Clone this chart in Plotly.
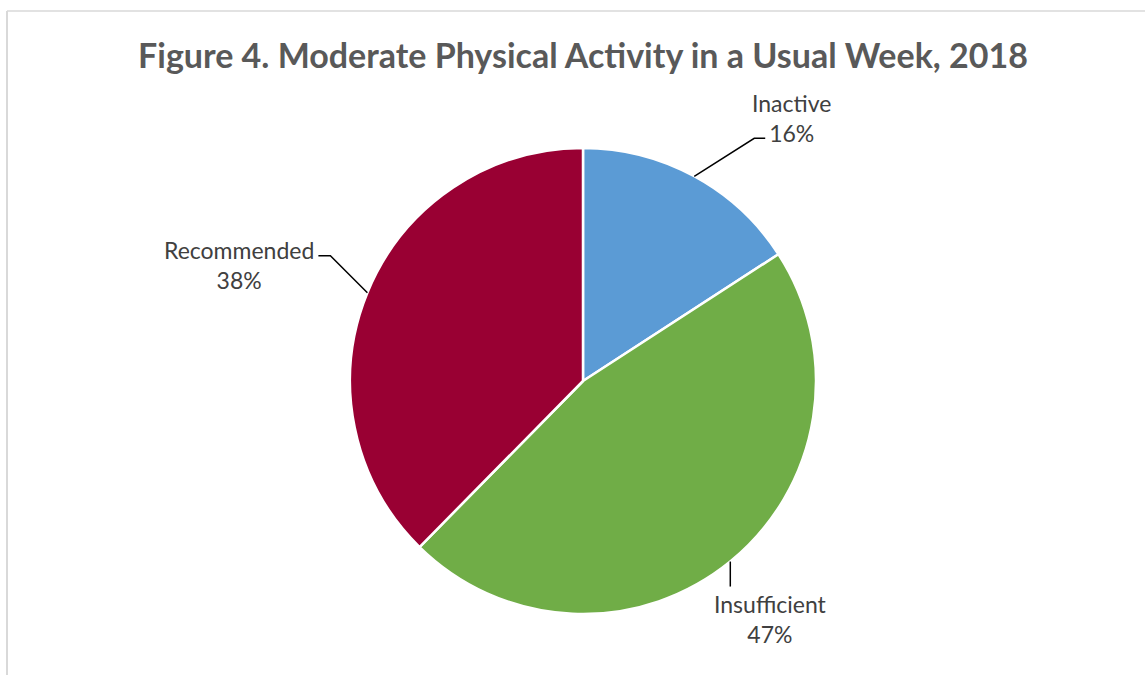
import math
import plotly.graph_objects as go

# ---- data ----
categories = ["Inactive", "Insufficient", "Recommended"]
values = [16, 47, 38]
pct_labels = ["16%", "47%", "38%"]
colors = ["#5B9BD5", "#70AD47", "#990033"]
title_text = "Figure 4. Moderate Physical Activity in a Usual Week, 2018"

# ---- layout / style ----
W, H = 1145, 675
CX, CY, R = 583, 381, 233          # pie centre and radius (px)
FONT = "Lato, 'Open Sans', sans-serif"
# per-label leader geometry, as offsets (px) from the slice's edge midpoint
leader_paths = [
    [(0, 0), (60, -38), (71, -38)],
    [(0, 0), (0, 25)],
    [(0, 0), (-37, -37), (-49, -37)],
]
text_offsets = [(97, -58), (40, 57), (-128, -28)]


def px(x, y):
    return x / W, 1 - y / H


total = sum(values)
fig = go.Figure()
fig.add_trace(go.Pie(
    labels=categories,
    values=values,
    marker=dict(colors=colors, line=dict(color="white", width=2.5)),
    sort=False,
    direction="clockwise",
    rotation=0,
    textinfo="none",
    hoverinfo="label+percent",
    showlegend=False,
    domain=dict(x=[(CX - R - 60) / W, (CX + R + 60) / W],
                y=[1 - (CY + R) / H, 1 - (CY - R) / H]),
))

shapes = []
annotations = []
cum = 0
for i, v in enumerate(values):
    mid = (cum + v / 2) / total
    cum += v
    ang = 2 * math.pi * mid
    ax = CX + R * math.sin(ang)
    ay = CY - R * math.cos(ang)
    pts = [px(ax + dx, ay + dy) for dx, dy in leader_paths[i]]
    path = "M " + " L ".join(f"{x:.5f},{y:.5f}" for x, y in pts)
    shapes.append(dict(type="path", path=path, xref="paper", yref="paper",
                       line=dict(color="black", width=1.5)))
    tx, ty = px(ax + text_offsets[i][0], ay + text_offsets[i][1])
    annotations.append(dict(
        text=f"{categories[i]}<br>{pct_labels[i]}", x=tx, y=ty,
        xref="paper", yref="paper", xanchor="center", yanchor="middle",
        showarrow=False, align="center",
        font=dict(family=FONT, size=23, color="#404040")))

# chart-area border (top and left visible)
shapes.append(dict(type="line", xref="paper", yref="paper",
                   x0=7 / W, x1=1.0, y0=1 - 11 / H, y1=1 - 11 / H,
                   line=dict(color="#D9D9D9", width=1.5)))
shapes.append(dict(type="line", xref="paper", yref="paper",
                   x0=7 / W, x1=7 / W, y0=0, y1=1 - 11 / H,
                   line=dict(color="#D9D9D9", width=2)))

fig.update_layout(
    width=W, height=H,
    margin=dict(l=0, r=0, t=0, b=0),
    paper_bgcolor="white", plot_bgcolor="white",
    title=dict(text=f"<b>{title_text}</b>", x=583 / W, xanchor="center",
               y=1 - 56 / H, yanchor="middle",
               font=dict(family=FONT, size=34, color="#595959")),
    shapes=shapes,
    annotations=annotations,
)

fig.write_html("out.html")
